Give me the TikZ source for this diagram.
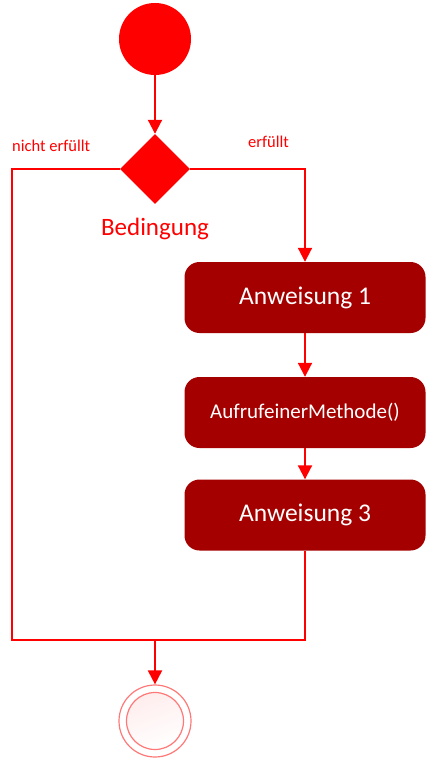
\documentclass[tikz,border=0pt]{standalone}
\usepackage{fontspec}
\setmainfont{Carlito}
\usetikzlibrary{shapes.geometric,arrows.meta}
\definecolor{flowred}{RGB}{255,0,0}
\definecolor{boxred}{RGB}{165,0,0}
\definecolor{ringred}{RGB}{255,120,120}
\begin{document}
\begin{tikzpicture}[x=1pt, y=-1pt,
  flow/.style={draw=flowred, line width=2pt},
  arr/.style={flow, -{Triangle[length=14pt, width=14pt]}},
  stepbox/.style={rectangle, rounded corners=15pt, fill=boxred, text=white,
    minimum width=241pt, minimum height=71pt, inner sep=0pt}]
  \useasboundingbox (0,0) rectangle (435,759);
  \node[circle, fill=flowred, minimum size=72pt, inner sep=0pt] (start) at (155,39) {};
  \node[diamond, fill=flowred, minimum size=70pt, inner sep=0pt] (cond) at (155,169) {};
  \node[anchor=base, inner sep=0pt, text=flowred, font=\fontsize{25}{28}\selectfont] (condlabel) at (155,235) {Bedingung};
  \node[anchor=base west, inner sep=0pt, text=flowred, font=\fontsize{16.5}{19}\selectfont] (nolabel) at (12,152) {nicht erfüllt};
  \node[anchor=base west, inner sep=0pt, text=flowred, font=\fontsize{16.5}{19}\selectfont] (yeslabel) at (248,148) {erfüllt};
  \node[stepbox, font=\fontsize{25.5}{28}\selectfont] (a1) at (305,297.5) {Anweisung 1};
  \node[stepbox, font=\fontsize{21}{24}\selectfont] (call) at (305,412.5) {AufrufeinerMethode()};
  \node[stepbox, font=\fontsize{25.5}{28}\selectfont] (a3) at (305,515) {Anweisung 3};
  \node[circle, draw=ringred, line width=1.2pt, fill=white, minimum size=72pt, inner sep=0pt] (final) at (155,721) {};
  \node[circle, draw=ringred, line width=1.2pt, top color=red!7, bottom color=white, shading angle=20,
    minimum size=57pt, inner sep=0pt] (finalin) at (final) {};
  \coordinate (jl) at (12,640);
  \coordinate (jr) at (305,640);
  \coordinate (jm) at (155,640);
  \draw[arr] (start) -- (cond);
  \draw[arr] (cond.east) -| (a1.north);
  \draw[arr] (a1) -- (call);
  \draw[arr] (call) -- (a3);
  \draw[flow] (cond.west) -| (jl) -- (jr) -- (a3.south);
  \draw[arr] (jm) -- (final);
\end{tikzpicture}
\end{document}
